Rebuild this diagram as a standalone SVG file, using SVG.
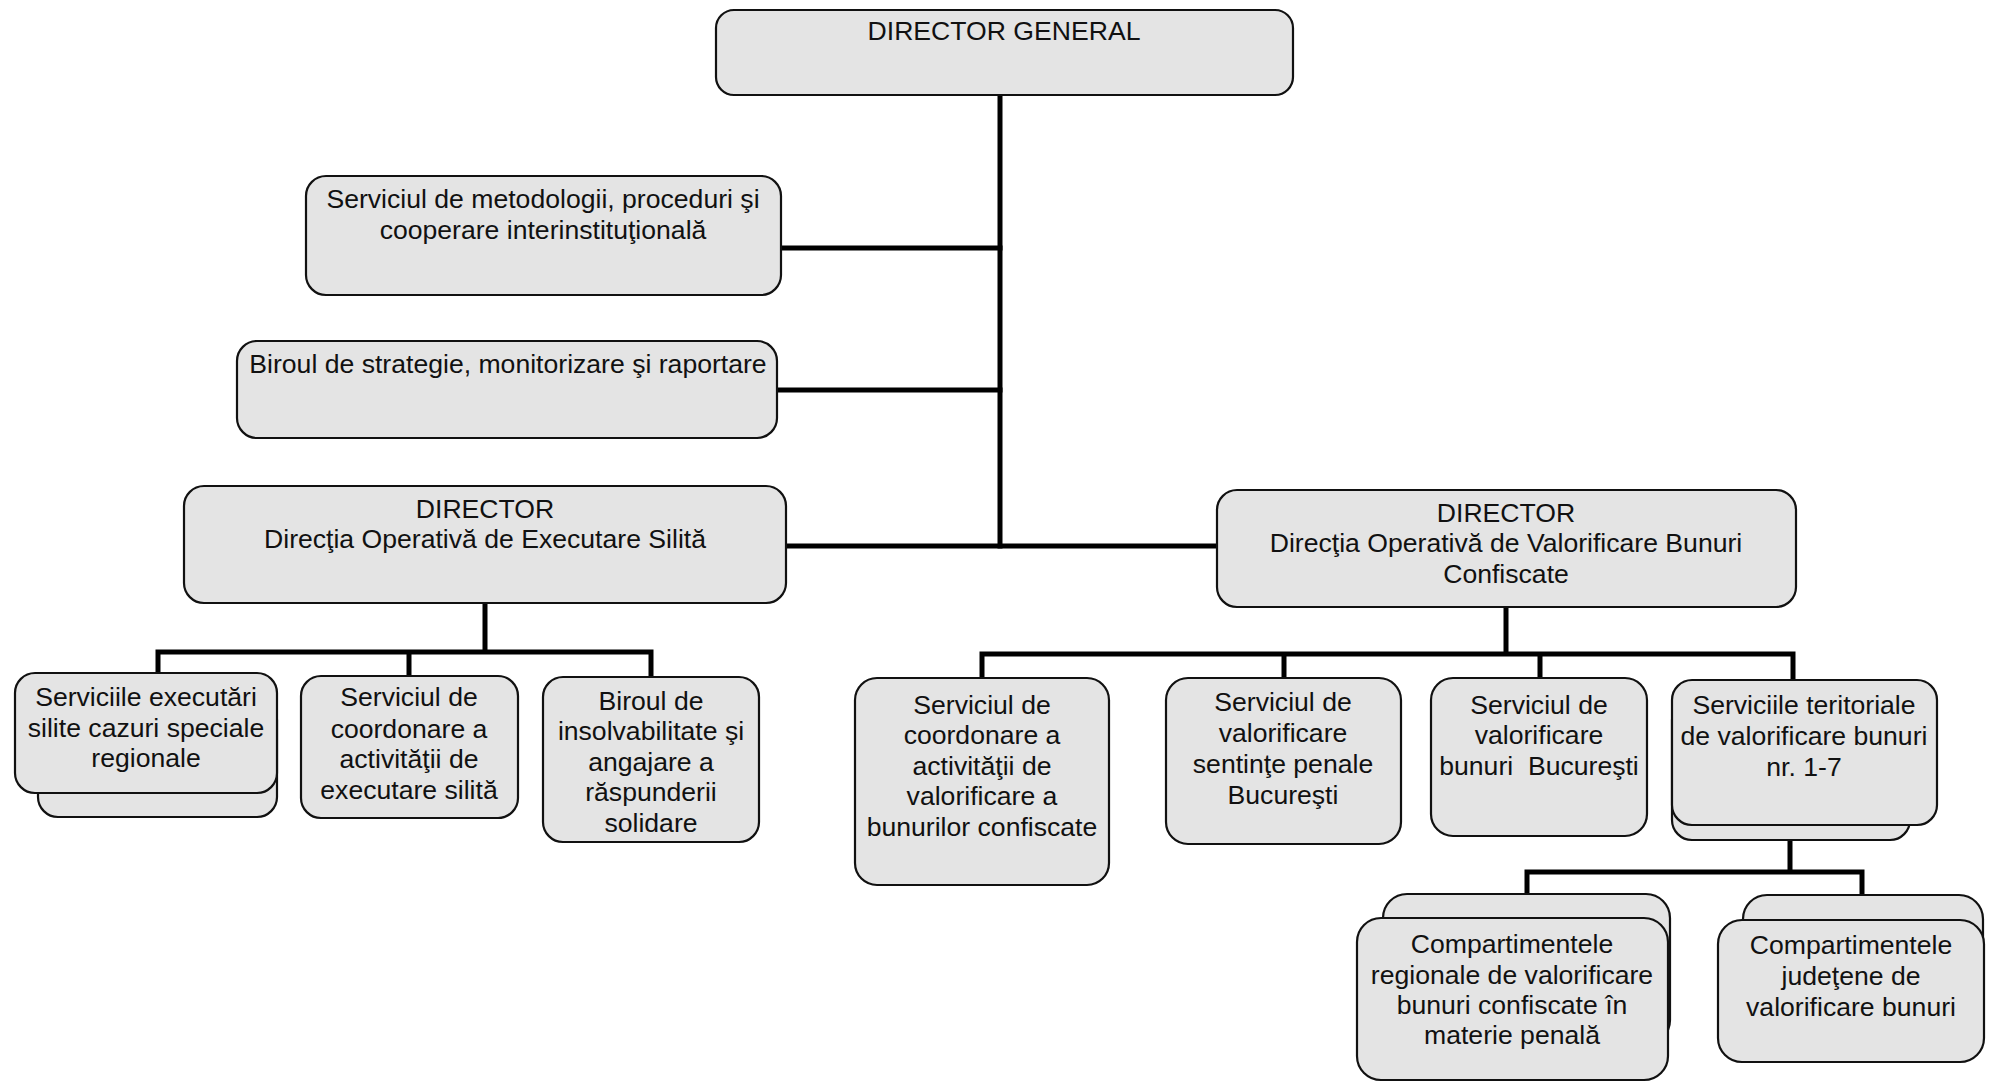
<svg xmlns="http://www.w3.org/2000/svg" width="1991" height="1082" viewBox="0 0 1991 1082">
<style>
.box{fill:#e4e4e4;stroke:#111;stroke-width:2.2}
.t{font-family:"Liberation Sans",Arial,sans-serif;font-size:26.6px;fill:#111;text-anchor:middle}
.c{stroke:#000;stroke-width:5;fill:none;stroke-linecap:square}
</style>
<rect width="1991" height="1082" fill="#fff"/>
<g id="connectors">
<path class="c" d="M1000 95V546"/>
<path class="c" d="M781 248H1000M777 390H1000M786 546H1217"/>
<path class="c" d="M485 603V652M158 652H651M158 652V673M409 652V676M651 652V677"/>
<path class="c" d="M1506 607V654M982 654H1793M982 654V678M1284 654V678M1540 654V678M1793 654V680"/>
<path class="c" d="M1790 840V872M1527 872H1862M1527 872V894M1862 872V895"/>
</g>
<g id="director-general">
<rect class="box" x="716" y="10" width="577" height="85" rx="18"/>
<text class="t" x="1004" y="40">DIRECTOR GENERAL</text>
</g>
<g id="serviciul-metodologii">
<rect class="box" x="306" y="176" width="475" height="119" rx="20"/>
<text class="t" x="543" y="208">Serviciul de metodologii, proceduri şi</text>
<text class="t" x="543" y="239">cooperare interinstituţională</text>
</g>
<g id="biroul-strategie">
<rect class="box" x="237" y="341" width="540" height="97" rx="20"/>
<text class="t" x="508" y="373">Biroul de strategie, monitorizare şi raportare</text>
</g>
<g id="director-executare">
<rect class="box" x="184" y="486" width="602" height="117" rx="20"/>
<text class="t" x="485" y="518">DIRECTOR</text>
<text class="t" x="485" y="548">Direcţia Operativă de Executare Silită</text>
</g>
<g id="director-valorificare">
<rect class="box" x="1217" y="490" width="579" height="117" rx="20"/>
<text class="t" x="1506" y="522">DIRECTOR</text>
<text class="t" x="1506" y="552">Direcţia Operativă de Valorificare Bunuri</text>
<text class="t" x="1506" y="583">Confiscate</text>
</g>
<g id="serviciile-executari">
<rect class="box" x="38" y="700" width="239" height="117" rx="20"/>
<rect class="box" x="15" y="673" width="262" height="120" rx="20"/>
<text class="t" x="146" y="706">Serviciile executări</text>
<text class="t" x="146" y="737">silite cazuri speciale</text>
<text class="t" x="146" y="767">regionale</text>
</g>
<g id="serviciul-coordonare-executare">
<rect class="box" x="301" y="676" width="217" height="142" rx="20"/>
<text class="t" x="409" y="706">Serviciul de</text>
<text class="t" x="409" y="738">coordonare a</text>
<text class="t" x="409" y="768">activităţii de</text>
<text class="t" x="409" y="799">executare silită</text>
</g>
<g id="biroul-insolvabilitate">
<rect class="box" x="543" y="677" width="216" height="165" rx="20"/>
<text class="t" x="651" y="710">Biroul de</text>
<text class="t" x="651" y="740">insolvabilitate şi</text>
<text class="t" x="651" y="771">angajare a</text>
<text class="t" x="651" y="801">răspunderii</text>
<text class="t" x="651" y="832">solidare</text>
</g>
<g id="serviciul-coordonare-valorificare">
<rect class="box" x="855" y="678" width="254" height="207" rx="22"/>
<text class="t" x="982" y="714">Serviciul de</text>
<text class="t" x="982" y="744">coordonare a</text>
<text class="t" x="982" y="775">activităţii de</text>
<text class="t" x="982" y="805">valorificare a</text>
<text class="t" x="982" y="836">bunurilor confiscate</text>
</g>
<g id="serviciul-sentinte">
<rect class="box" x="1166" y="678" width="235" height="166" rx="22"/>
<text class="t" x="1283" y="711">Serviciul de</text>
<text class="t" x="1283" y="742">valorificare</text>
<text class="t" x="1283" y="773">sentinţe penale</text>
<text class="t" x="1283" y="804">Bucureşti</text>
</g>
<g id="serviciul-bucuresti">
<rect class="box" x="1431" y="678" width="216" height="158" rx="22"/>
<text class="t" x="1539" y="714">Serviciul de</text>
<text class="t" x="1539" y="744">valorificare</text>
<text class="t" x="1539" y="775" xml:space="preserve">bunuri  Bucureşti</text>
</g>
<g id="serviciile-teritoriale">
<rect class="box" x="1672" y="700" width="238" height="140" rx="20"/>
<rect class="box" x="1672" y="680" width="265" height="145" rx="20"/>
<text class="t" x="1804" y="714">Serviciile teritoriale</text>
<text class="t" x="1804" y="745">de valorificare bunuri</text>
<text class="t" x="1804" y="776">nr. 1-7</text>
</g>
<g id="compartimentele-regionale">
<rect class="box" x="1383" y="894" width="287" height="150" rx="24"/>
<rect class="box" x="1357" y="918" width="311" height="162" rx="24"/>
<text class="t" x="1512" y="953">Compartimentele</text>
<text class="t" x="1512" y="984">regionale de valorificare</text>
<text class="t" x="1512" y="1014">bunuri confiscate în</text>
<text class="t" x="1512" y="1044">materie penală</text>
</g>
<g id="compartimentele-judetene">
<rect class="box" x="1743" y="895" width="240" height="150" rx="24"/>
<rect class="box" x="1718" y="920" width="266" height="142" rx="24"/>
<text class="t" x="1851" y="954">Compartimentele</text>
<text class="t" x="1851" y="985">judeţene de</text>
<text class="t" x="1851" y="1016">valorificare bunuri</text>
</g>
</svg>
